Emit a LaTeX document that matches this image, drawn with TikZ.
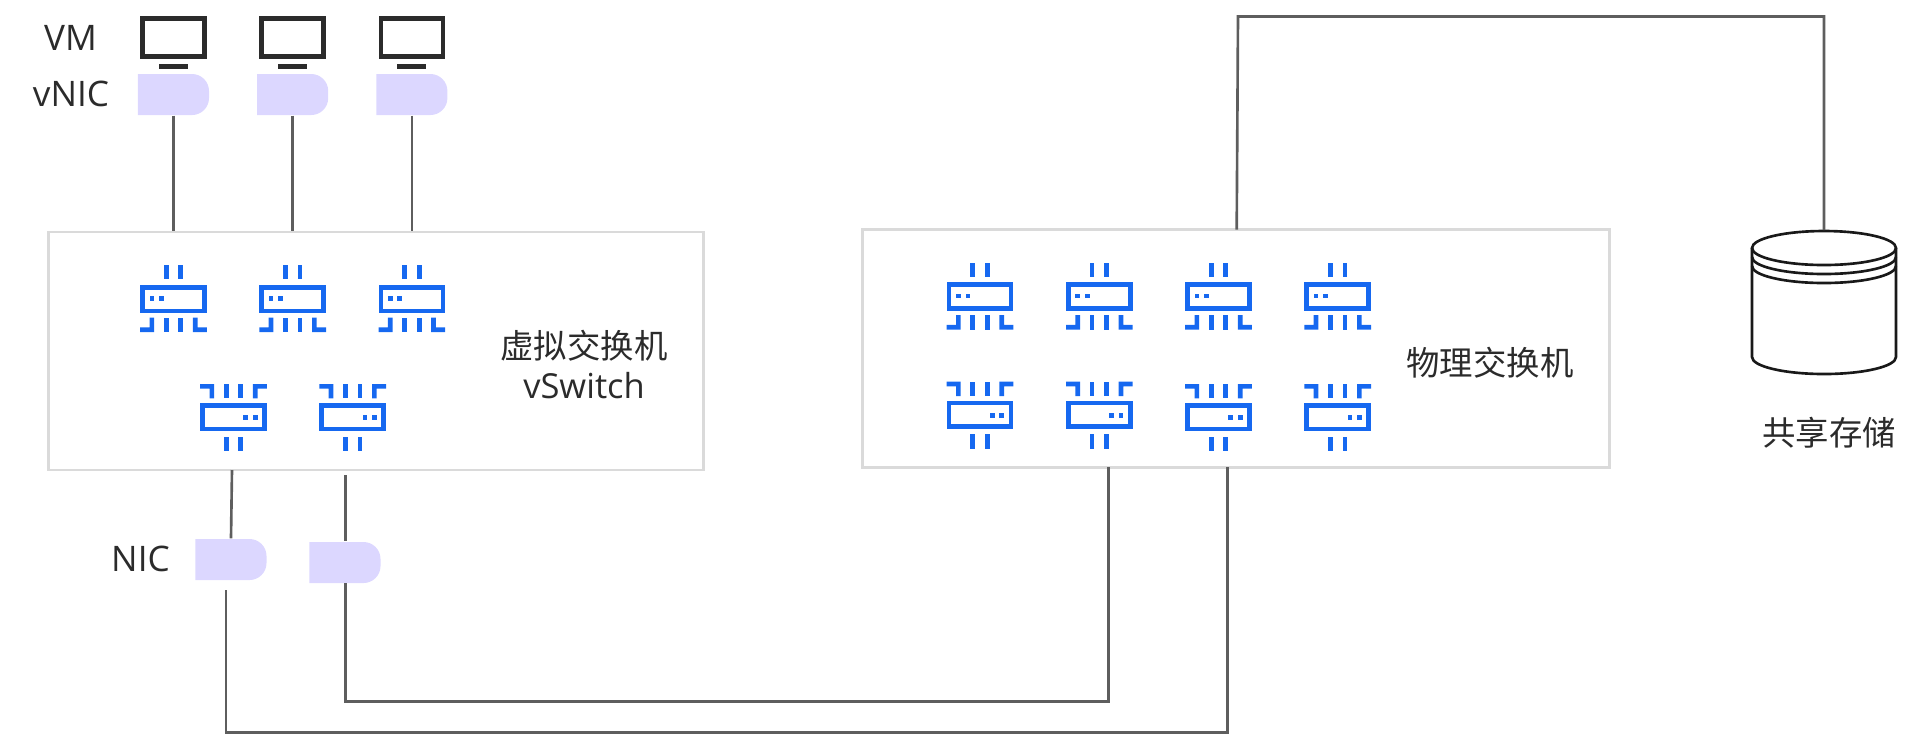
\documentclass[tikz,border=0pt]{standalone}
\usepackage{fontspec}
\setmainfont{Open Sans}
\newfontfamily\cjk{Noto Sans CJK SC}
\usetikzlibrary{positioning,calc}
\definecolor{chipblue}{HTML}{1668F0}
\definecolor{nicpurple}{HTML}{DCD7FF}
\definecolor{screendark}{HTML}{2B2B2B}
\definecolor{boxgray}{HTML}{DADADA}
\definecolor{linkgray}{HTML}{5E5E5E}
\tikzset{
    swbox/.style = {
        draw=boxgray,
        shape=rectangle,
        inner sep=0pt,
        line width=0.8pt
    },
    nic/.style = {
        shape=rectangle,
        inner sep=0pt,
        minimum width=0.71cm,
        minimum height=0.41cm,
        path picture={
            \fill[nicpurple, rounded corners=0.17cm] ([xshift=-0.3cm]path picture bounding box.south west) rectangle (path picture bounding box.north east);
        }
    },
    screen/.style = {
        draw=screendark,
        shape=rectangle,
        inner sep=0pt,
        line width=1.35pt,
        minimum width=0.62cm,
        minimum height=0.38cm
    },
    link/.style = {
        draw=linkgray,
        line width=0.75pt
    },
    disk/.style = {
        draw=black!90,
        line width=0.75pt
    },
    tag/.style = {
        text=screendark,
        inner sep=0pt,
        font=\fontsize{10pt}{12pt}\selectfont
    },
    cjktag/.style = {
        text=screendark,
        inner sep=0pt,
        font=\cjk\fontsize{9.5pt}{12pt}\selectfont
    },
    chip/.pic = {
        \draw[chipblue, line width=1.34pt] (-31,-11.85) rectangle (31,11.85);
        \fill[chipblue] (-24,-2.8) rectangle (-19.3,1.8);
        \fill[chipblue] (-14.5,-2.8) rectangle (-9.8,1.8);
        \fill[chipblue] (-9.6,-34) rectangle (-4.9,-19.6);
        \fill[chipblue] (4.9,-34) rectangle (9.6,-19.6);
        \fill[chipblue] (-9.6,18.6) rectangle (-4.9,33);
        \fill[chipblue] (4.9,18.6) rectangle (9.6,33);
        \fill[chipblue] (-33.3,33) -- (-19.3,33) -- (-19.3,18.6) -- (-24,18.6) -- (-24,28.3) -- (-33.3,28.3) -- cycle;
        \fill[chipblue] (33.3,33) -- (19.3,33) -- (19.3,18.6) -- (24,18.6) -- (24,28.3) -- (33.3,28.3) -- cycle;
    },
}

\begin{document}
\begin{tikzpicture}[x=0.01cm, y=-0.01cm]
    \useasboundingbox (0,0) rectangle (1914,738);

    \node[screen] (vma) at (173.5,37.5) {};
    \node[screen] (vmb) at (292.7,37.5) {};
    \node[screen] (vmc) at (411.9,37.5) {};
    \fill[screendark] (159,64) rectangle (188,69);
    \fill[screendark] (278.2,64) rectangle (307.2,69);
    \fill[screendark] (397.4,64) rectangle (426.4,69);

    \node[nic] (vnica) at (173.5,94.5) {};
    \node[nic] (vnicb) at (292.7,94.5) {};
    \node[nic] (vnicc) at (411.9,94.5) {};

    \node[swbox, minimum width=6.54cm, minimum height=2.38cm] (vswitch) at (376,351) {};
    \node[swbox, minimum width=7.46cm, minimum height=2.38cm] (pswitch) at (1236,348.3) {};

    \node[nic] (nica) at (231,559.5) {};
    \node[nic] (nicb) at (345,562.5) {};

    \pic (vchipa) at (173.5,299) {chip};
    \pic (vchipb) at (292.7,299) {chip};
    \pic (vchipc) at (411.9,299) {chip};
    \pic[rotate=180] (vchipd) at (233.5,417) {chip};
    \pic[rotate=180] (vchipe) at (352.7,417) {chip};

    \pic (pchipa) at (980,296.5) {chip};
    \pic (pchipb) at (1099.3,296.5) {chip};
    \pic (pchipc) at (1218.5,296.5) {chip};
    \pic (pchipd) at (1337.7,296.5) {chip};
    \pic[rotate=180] (pchipe) at (980,414.7) {chip};
    \pic[rotate=180] (pchipf) at (1099.3,414.7) {chip};
    \pic[rotate=180] (pchipg) at (1218.5,417) {chip};
    \pic[rotate=180] (pchiph) at (1337.7,417) {chip};

    \path[disk] (1824,248) circle[x radius=72, y radius=17];
    \path[disk] (1752,257) arc[start angle=180, end angle=0, x radius=72, y radius=17];
    \path[disk] (1752,266) arc[start angle=180, end angle=0, x radius=72, y radius=17];
    \path[disk] (1752,248) -- (1752,357) arc[start angle=180, end angle=0, x radius=72, y radius=17] -- (1896,248);
    \coordinate (disktop) at (1824,230);

    \node[tag] (vmtag) at (70.5,38) {VM};
    \node[tag] (vnictag) at (71,94) {vNIC};
    \node[tag] (nictag) at (140.5,559) {NIC};
    \node[cjktag] (vswname) at (584,345.5) {虚拟交换机};
    \node[tag, font=\fontsize{9.8pt}{12pt}\selectfont] (vswtag) at (584,386) {vSwitch};
    \node[cjktag] (pswname) at (1490,363) {物理交换机};
    \node[cjktag] (disktag) at (1829,432.5) {共享存储};

    \coordinate (nicaup) at (232,470);
    \coordinate (nicbup) at (345.7,475);
    \coordinate (nicadown) at (226,590);
    \coordinate (nicbdown) at (345.7,583);
    \coordinate (pswa) at (1108.5,467.3);
    \coordinate (pswb) at (1227.7,467.3);
    \coordinate (pswc) at (1236.7,229.5);

    \path[link] (vnica.south) -- (vnica.south |- vswitch.north);
    \path[link] (vnicb.south) -- (vnicb.south |- vswitch.north);
    \path[link] (vnicc.south) -- (vnicc.south |- vswitch.north);
    \path[link] (nicaup) -- (nica.north);
    \path[link] (nicbup) -- (nicbup |- nicb.north);
    \path[link] (nicadown) -- (226,732.3) -| (pswb);
    \path[link] (nicbdown) -- (345.7,701.7) -| (pswa);
    \path[link] (pswc) -- (1238,16.5) -| (disktop);
\end{tikzpicture}
\end{document}
